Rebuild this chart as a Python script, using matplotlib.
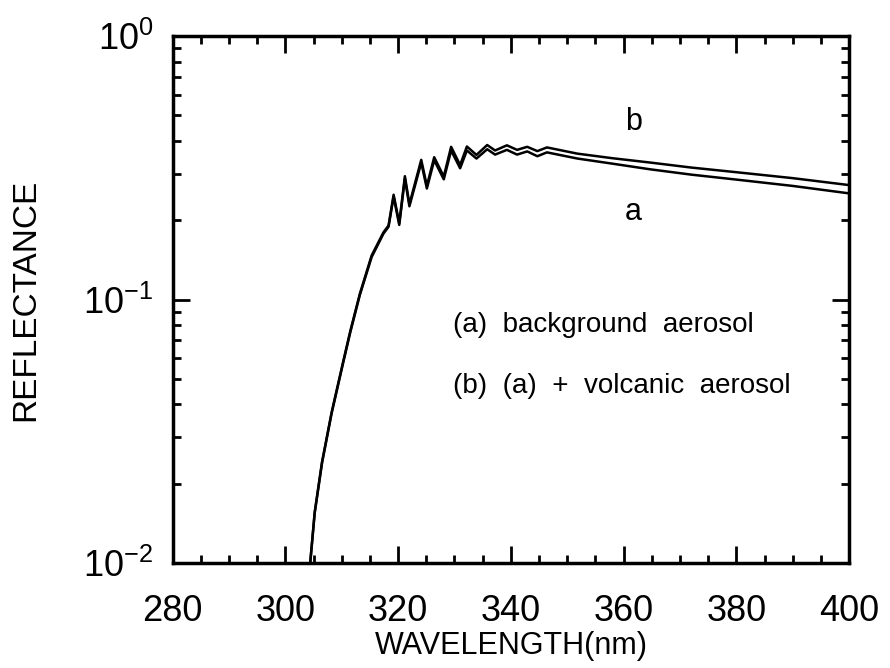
# reflectance spectra: background aerosol vs. background + volcanic aerosol
import numpy as np
import matplotlib.pyplot as plt
from matplotlib.ticker import MultipleLocator, LogLocator

wavelength = [304.4, 305.2, 306.5, 308.2, 310.2, 311.5, 313.2, 315.3, 317.4,
              318.3, 319.2, 320.2, 321.2, 322.0, 324.1, 325.1, 326.4, 328.1,
              329.4, 331.0, 332.2, 333.9, 335.8, 337.2, 339.3, 341.1, 342.9,
              344.7, 346.4, 351.8, 358.0, 364.8, 372.0, 379.6, 390.0, 400.0]

# (a) background aerosol
refl_a = [0.0100, 0.0155, 0.0240, 0.0370, 0.0570, 0.0750, 0.1040, 0.1450, 0.1780,
          0.1890, 0.2460, 0.1920, 0.2880, 0.2260, 0.3310, 0.2640, 0.3380, 0.2860,
          0.3680, 0.3150, 0.3680, 0.3430, 0.3720, 0.3550, 0.3700, 0.3550, 0.3650,
          0.3500, 0.3620, 0.3430, 0.3280, 0.3120, 0.2980, 0.2860, 0.2700, 0.2530]

# (b) (a) + volcanic aerosol
refl_b = [0.0100, 0.0156, 0.0242, 0.0373, 0.0575, 0.0757, 0.1050, 0.1470, 0.1800,
          0.1910, 0.2500, 0.1950, 0.2940, 0.2300, 0.3390, 0.2700, 0.3470, 0.2930,
          0.3800, 0.3240, 0.3810, 0.3540, 0.3860, 0.3680, 0.3850, 0.3700, 0.3800,
          0.3660, 0.3780, 0.3580, 0.3440, 0.3310, 0.3170, 0.3050, 0.2890, 0.2720]


def main():
    plt.rcParams['font.family'] = ['Liberation Sans', 'DejaVu Sans']
    plt.rcParams['mathtext.fontset'] = 'custom'
    plt.rcParams['mathtext.rm'] = 'Liberation Sans'

    fig = plt.figure(figsize=(8.9, 6.68), dpi=100)
    ax = fig.add_axes([0.194, 0.157, 0.76, 0.789])

    ax.plot(wavelength, refl_a, color='black', lw=1.8)
    ax.plot(wavelength, refl_b, color='black', lw=1.8)

    ax.set_yscale('log')
    ax.set_xlim(280, 400)
    ax.set_ylim(0.01, 1.0)

    ax.xaxis.set_major_locator(MultipleLocator(20))
    ax.xaxis.set_minor_locator(MultipleLocator(5))
    ax.yaxis.set_major_locator(LogLocator(base=10))
    ax.yaxis.set_minor_locator(LogLocator(base=10, subs=np.arange(2, 10)))

    ax.tick_params(which='both', direction='in', top=True, right=True,
                   width=2, labelsize=26)
    ax.tick_params(axis='x', pad=22)
    ax.tick_params(axis='y', pad=14)
    ax.tick_params(which='major', length=12)
    ax.tick_params(which='minor', length=6)
    for s in ax.spines.values():
        s.set_linewidth(2.5)

    ax.set_xlabel('WAVELENGTH(nm)', fontsize=22, labelpad=2)
    ax.set_ylabel('REFLECTANCE', fontsize=24, labelpad=30)

    ax.text(361.8, 0.47, 'b', fontsize=22, ha='center', va='center')
    ax.text(361.8, 0.215, 'a', fontsize=22, ha='center', va='center')
    ax.text(329.8, 0.080, '(a)  background  aerosol', fontsize=20, va='center')
    ax.text(329.8, 0.047, '(b)  (a)  +  volcanic  aerosol', fontsize=20, va='center')

    fig.savefig('out.png', dpi=100)


if __name__ == '__main__':
    main()
